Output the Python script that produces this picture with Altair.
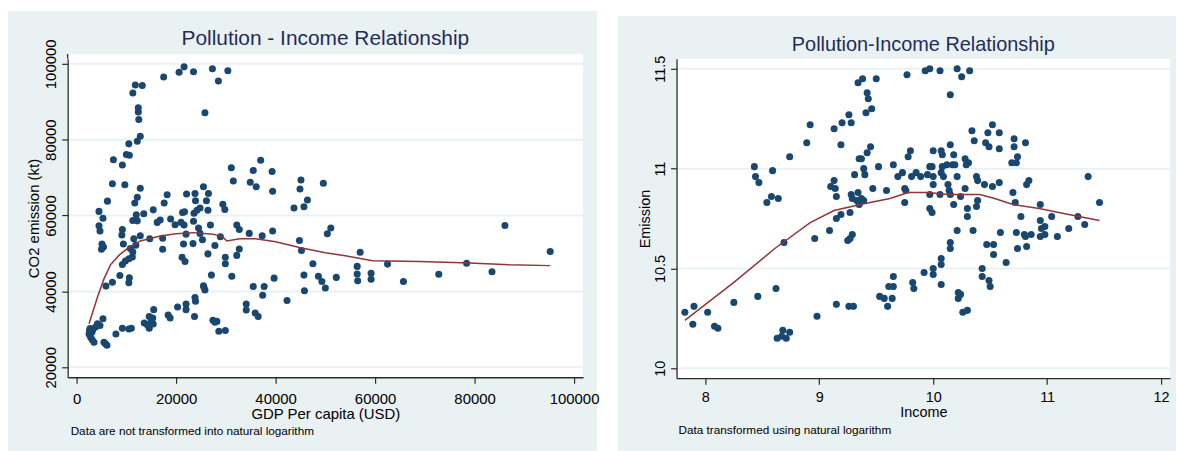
import altair as alt
import pandas as pd

# ---------------- data ----------------
# Left panel: (GDP per capita USD, CO2 emission kt)
left_points = [
    (21600, 99200), (20600, 97800), (23500, 97900), (17500, 96500), (27300, 98700),
    (30400, 98200), (28500, 95500), (25800, 87100), (11800, 94400), (13200, 94300),
    (11300, 92300), (12400, 88400), (12400, 87300), (12500, 85300), (12800, 80900),
    (12200, 79600), (10500, 78900), (10000, 76100), (10600, 75900), (7400, 74700),
    (9200, 73300), (7200, 68400), (9700, 68100), (12800, 67200), (6200, 63800),
    (4500, 61100), (5300, 59300), (4500, 57300), (4700, 55900), (5100, 52500),
    (5000, 51100), (5400, 51700), (5900, 41400), (7200, 42400), (8700, 44200),
    (9200, 56300), (9100, 54900), (9400, 52500), (9200, 47100), (9800, 48000),
    (10600, 43600), (10500, 42300), (11700, 63300), (12200, 64800), (11300, 58700),
    (12000, 60200), (12200, 58600), (12800, 54700), (11500, 53900), (10800, 51300),
    (11900, 52200), (11300, 50400), (11200, 49100), (10500, 48600), (13500, 60500),
    (15400, 61500), (14700, 53900), (16200, 58200), (16800, 58800), (17300, 54000),
    (17300, 51100), (17600, 63300), (18200, 65500), (18900, 59100), (19800, 57600),
    (21000, 58200), (21300, 60800), (21700, 61000), (21600, 57500), (21500, 52500),
    (22000, 55100), (22100, 65700), (21200, 49000), (21800, 47900), (23800, 65800),
    (23900, 63900), (23600, 60600), (23500, 58500), (23400, 52600), (24200, 61400),
    (24800, 62000), (24500, 56700), (24800, 55300), (25300, 53600), (25500, 67600),
    (26100, 63900), (26500, 65800), (26400, 61400), (26900, 57500), (26400, 49900),
    (25600, 41100), (27100, 44300), (27800, 52100), (28900, 54400), (29400, 63000),
    (29800, 61600), (29900, 49000), (29900, 47300), (31100, 72600), (31500, 69100),
    (32200, 57500), (32700, 56300), (32200, 49500), (32700, 51200), (31200, 44000),
    (34700, 55300), (34900, 68800), (35500, 71900), (36100, 67600), (37000, 74600),
    (37300, 54700), (39300, 71600), (39400, 66400), (39400, 55900), (35500, 41300),
    (37700, 41300), (37400, 39000), (39700, 43500), (34100, 36700), (34100, 35100),
    (35900, 34300), (36500, 33400), (42300, 37600), (43700, 62000), (44900, 67000),
    (45100, 69400), (44800, 53400), (45200, 50800), (45700, 44300), (45800, 40200),
    (45700, 62300), (46400, 64100), (47500, 47300), (49600, 68500), (48600, 44000),
    (49300, 42600), (50000, 40900), (50400, 55200), (51100, 56700), (52200, 43700),
    (57000, 50300), (56400, 46600), (56400, 44600), (56500, 42800), (59200, 44800),
    (59200, 43200), (62500, 47200), (65700, 42600), (72800, 44500), (78400, 47400),
    (83500, 45200), (86100, 57400), (95200, 50500),
    (2700, 30200), (3100, 29300), (2500, 28800), (3100, 27300), (3500, 26600),
    (2800, 28000), (4700, 31000), (3800, 30600), (5300, 32800), (5800, 26200),
    (6100, 25800), (5500, 26600), (4200, 31500), (3300, 30000), (2600, 29700),
    (7900, 28800), (9200, 30300), (10500, 30100), (11000, 30300), (13600, 31700),
    (14200, 31200), (14600, 30300), (15000, 32000), (15300, 33000), (15500, 35200),
    (14600, 33400), (15400, 31400), (18400, 33800), (18800, 33000), (20300, 35900),
    (22000, 36700), (22000, 35200), (23700, 33400), (23800, 38400), (23900, 37400),
    (25500, 41500), (25800, 40400), (27400, 32400), (27800, 31900), (28200, 32100),
    (28600, 29500), (29900, 29700),
]
left_lowess = [
    (2500, 31500), (4200, 38500), (5500, 43300), (6800, 47000), (8500, 49500),
    (10100, 51200), (12800, 53300), (16800, 54600), (20000, 55200), (23500, 55500),
    (27500, 55100), (29400, 54300), (30200, 53300), (32800, 53900), (36000, 53900),
    (40000, 53100), (44800, 51600), (50000, 50200), (54000, 49400), (59500, 48100),
    (69000, 47900), (79000, 47500), (87000, 47000), (95200, 46800),
]
left_x_ticks = [0, 20000, 40000, 60000, 80000, 100000]
left_y_ticks = [20000, 40000, 60000, 80000, 100000]

# Right panel: (Income, Emission) in natural logs
right_points = [
    (7.82, 10.28), (7.90, 10.31), (7.89, 10.22), (8.02, 10.28), (8.08, 10.21), (8.11, 10.20),
    (8.25, 10.33), (8.46, 10.36), (8.43, 11.01), (8.44, 10.96), (8.47, 10.93), (8.59, 10.99),
    (8.54, 10.83), (8.58, 10.86), (8.64, 10.85), (8.62, 10.40), (8.63, 10.15), (8.68, 10.19),
    (8.71, 10.15), (8.74, 10.18), (8.67, 10.16), (8.69, 10.63), (8.74, 11.06), (8.89, 11.13),
    (8.92, 11.22), (8.96, 10.65), (8.98, 10.26), (9.09, 10.69), (9.10, 10.91), (9.13, 10.94),
    (9.14, 10.90), (9.15, 10.86), (9.15, 10.75), (9.19, 10.77), (9.19, 11.12), (9.13, 11.20),
    (9.20, 11.23), (9.26, 11.27), (9.28, 11.23), (9.15, 10.32), (9.26, 10.31), (9.30, 10.31),
    (9.25, 10.64), (9.27, 10.65), (9.29, 10.67), (9.27, 10.78), (9.28, 10.87), (9.29, 10.85),
    (9.31, 10.97), (9.34, 10.88), (9.33, 10.84), (9.37, 10.85), (9.35, 10.82), (9.39, 10.84),
    (9.35, 11.05), (9.37, 11.05), (9.39, 11.00), (9.40, 10.97), (9.42, 11.08), (9.45, 11.11),
    (9.47, 10.90), (9.52, 11.01), (9.34, 11.43), (9.38, 11.45), (9.50, 11.45), (9.42, 11.38),
    (9.43, 11.35), (9.41, 11.28), (9.46, 11.30), (9.53, 10.36), (9.57, 10.35), (9.60, 10.31),
    (9.64, 10.35), (9.61, 10.41), (9.65, 10.41), (9.65, 10.46), (9.59, 10.89), (9.65, 11.02),
    (9.69, 10.96), (9.73, 10.98), (9.75, 10.90), (9.76, 10.89), (9.75, 10.83), (9.78, 11.06),
    (9.80, 11.09), (9.81, 10.96), (9.85, 10.98), (9.89, 10.96), (9.77, 11.47), (9.93, 11.49),
    (9.97, 11.50), (10.06, 11.49), (10.15, 11.37), (10.21, 11.50), (10.25, 11.46), (10.32, 11.49),
    (9.92, 10.48), (9.82, 10.43), (9.83, 10.40), (9.95, 10.97), (9.97, 11.01), (9.99, 11.01),
    (10.00, 11.09), (10.00, 10.96), (10.00, 10.92), (9.97, 10.87), (9.97, 10.80), (9.99, 10.78),
    (10.00, 10.50), (10.00, 10.47), (10.07, 10.42), (10.07, 10.55), (10.07, 10.52), (10.06, 10.87),
    (10.07, 10.98), (10.08, 11.01), (10.07, 11.09), (10.08, 11.07), (10.09, 10.96), (10.12, 11.02),
    (10.13, 10.92), (10.14, 10.89), (10.15, 11.12), (10.17, 11.02), (10.18, 11.07), (10.19, 11.02),
    (10.15, 10.87), (10.18, 10.82), (10.21, 10.96), (10.21, 10.69), (10.15, 10.63), (10.15, 10.60),
    (10.22, 10.38), (10.24, 10.37), (10.22, 10.35), (10.26, 10.28), (10.30, 10.29), (10.24, 10.86),
    (10.28, 10.90), (10.28, 11.05), (10.29, 11.02), (10.31, 11.03), (10.30, 10.80), (10.30, 10.76),
    (10.34, 11.19), (10.36, 11.14), (10.35, 10.69), (10.38, 10.96), (10.39, 10.94), (10.39, 10.84),
    (10.38, 10.81), (10.45, 10.92), (10.46, 11.13), (10.49, 11.11), (10.48, 11.18), (10.52, 11.22),
    (10.58, 11.18), (10.58, 11.10), (10.52, 10.91), (10.58, 10.93), (10.47, 10.62), (10.53, 10.62),
    (10.53, 10.57), (10.43, 10.50), (10.43, 10.46), (10.49, 10.44), (10.50, 10.41), (10.59, 10.68),
    (10.64, 10.53), (10.69, 11.03), (10.71, 11.11), (10.71, 11.15), (10.74, 11.06), (10.73, 11.03),
    (10.81, 11.13), (10.70, 10.88), (10.72, 10.83), (10.77, 10.76), (10.73, 10.68), (10.74, 10.60),
    (10.80, 10.67), (10.81, 10.66), (10.82, 10.61), (10.82, 10.92), (10.84, 10.94), (10.86, 10.67),
    (10.94, 10.82), (10.94, 10.74), (10.95, 10.70), (10.98, 10.71), (10.94, 10.66), (10.98, 10.67),
    (11.04, 10.76), (11.09, 10.66), (11.19, 10.70), (11.27, 10.76), (11.33, 10.72), (11.36, 10.96),
    (11.46, 10.83),
]
right_lowess = [
    (7.82, 10.24), (8.25, 10.43), (8.61, 10.60), (8.92, 10.73), (9.13, 10.79), (9.36, 10.82),
    (9.62, 10.85), (9.78, 10.88), (9.95, 10.88), (10.14, 10.87), (10.41, 10.87), (10.54, 10.85),
    (10.70, 10.82), (10.93, 10.80), (11.19, 10.77), (11.46, 10.74),
]
right_x_ticks = [8, 9, 10, 11, 12]
right_y_ticks = [10, 10.5, 11, 11.5]

# ---------------- styling ----------------
BG = "#EAF1F3"
NAVY = "#1A476F"
MAROON = "#90353B"
TITLE_COLOR = "#1E2D5C"
AXIS_COLOR = "#2A2A2A"
FONT = "Liberation Sans"


def panel(points, lowess, xdom, ydom, xticks, yticks, xfmt, yfmt, xtitle, ytitle,
          title, caption, W, H, bg, title_size, fs, ytitle_pad, xlabel_pad, xtitle_pad,
          title_y, cap_xy, plot_top=0):
    xs = alt.Scale(domain=xdom, nice=False, zero=False)
    ys = alt.Scale(domain=ydom, nice=False, zero=False)
    common = dict(grid=False, domainColor=AXIS_COLOR, tickColor=AXIS_COLOR,
                  domainWidth=1.3, tickWidth=1.2, tickSize=6, labelColor="black",
                  titleColor="black", titleFontWeight="normal", labelFontSize=fs,
                  titleFontSize=fs, labelFont=FONT, titleFont=FONT, zindex=1,
                  labelFlush=False, labelOverlap=False)
    xaxis = alt.Axis(values=xticks, format=xfmt, title=xtitle, labelPadding=xlabel_pad,
                     titlePadding=xtitle_pad, **common)
    yaxis = alt.Axis(values=yticks, format=yfmt, title=ytitle, labelAngle=270,
                     labelAlign="center", labelBaseline="bottom", labelPadding=3,
                     titlePadding=ytitle_pad, **common)
    X = alt.X("x:Q", scale=xs, axis=xaxis)
    Y = alt.Y("y:Q", scale=ys, axis=yaxis)

    one = pd.DataFrame({"k": [0]})
    pts = pd.DataFrame(points, columns=["x", "y"])
    low = pd.DataFrame(lowess, columns=["x", "y"])
    grid = pd.DataFrame({"y": yticks})

    layers = [
        # panel (graph region) background
        alt.Chart(one).mark_rect(color=BG).encode(
            x=alt.value(bg[0]), x2=alt.value(bg[1]), y=alt.value(bg[2]), y2=alt.value(bg[3])),
        # white plot region
        alt.Chart(one).mark_rect(color="white").encode(
            x=alt.value(0), x2=alt.value(W), y=alt.value(plot_top), y2=alt.value(H)),
    ]
    if plot_top < 0:
        # the y axis line runs to the top of the white plot region
        layers.append(alt.Chart(one).mark_rule(color=AXIS_COLOR, strokeWidth=1.3).encode(
            x=alt.value(0), y=alt.value(plot_top), y2=alt.value(0)))
    layers += [
        alt.Chart(grid).mark_rule(color=BG, strokeWidth=2).encode(y=Y),
        alt.Chart(pts).mark_circle(size=50, color=NAVY, opacity=1).encode(x=X, y=Y),
        alt.Chart(low).mark_line(color=MAROON, strokeWidth=1.5).encode(x=X, y=Y),
        alt.Chart(one).mark_text(fontSize=title_size, color=TITLE_COLOR, font=FONT,
                                 align="center", baseline="alphabetic").encode(
            x=alt.value(W / 2), y=alt.value(title_y), text=alt.value(title)),
        alt.Chart(one).mark_text(fontSize=11.8, color="black", font=FONT,
                                 align="left", baseline="middle").encode(
            x=alt.value(cap_xy[0]), y=alt.value(cap_xy[1]), text=alt.value(caption)),
    ]
    return alt.layer(*layers).properties(width=W, height=H)


left = panel(
    left_points, left_lowess,
    xdom=[-1800, 101800], ydom=[17377, 101311],
    xticks=left_x_ticks, yticks=left_y_ticks, xfmt="d", yfmt="d",
    xtitle="GDP Per capita (USD)", ytitle="CO2 emission (kt)",
    title="Pollution - Income Relationship",
    caption="Data are not transformed into natural logarithm",
    W=518, H=320, bg=(-60, 532, -48, 394), title_size=21, fs=15,
    ytitle_pad=2, xlabel_pad=8, xtitle_pad=0, title_y=-14, cap_xy=(3, 374), plot_top=-5,
)

right = panel(
    right_points, right_lowess,
    xdom=[7.747, 12.079], ydom=[9.95, 11.55],
    xticks=right_x_ticks, yticks=right_y_ticks, xfmt="d", yfmt="~g",
    xtitle="Income", ytitle="Emission",
    title="Pollution-Income Relationship",
    caption="Data transformed using natural logarithm",
    W=496, H=321, bg=(-59, 502, -43, 394), title_size=20, fs=14.5,
    ytitle_pad=0, xlabel_pad=6, xtitle_pad=2, title_y=-8, cap_xy=(2, 373),
)

chart = alt.concat(left, right, columns=2, align="none", spacing=17).properties(
    background="white",
    padding={"left": 7, "top": 9, "right": 0, "bottom": 0},
).configure_view(stroke=None).configure(font=FONT)

chart.save("out.html", embed_options={"renderer": "svg", "actions": False})
